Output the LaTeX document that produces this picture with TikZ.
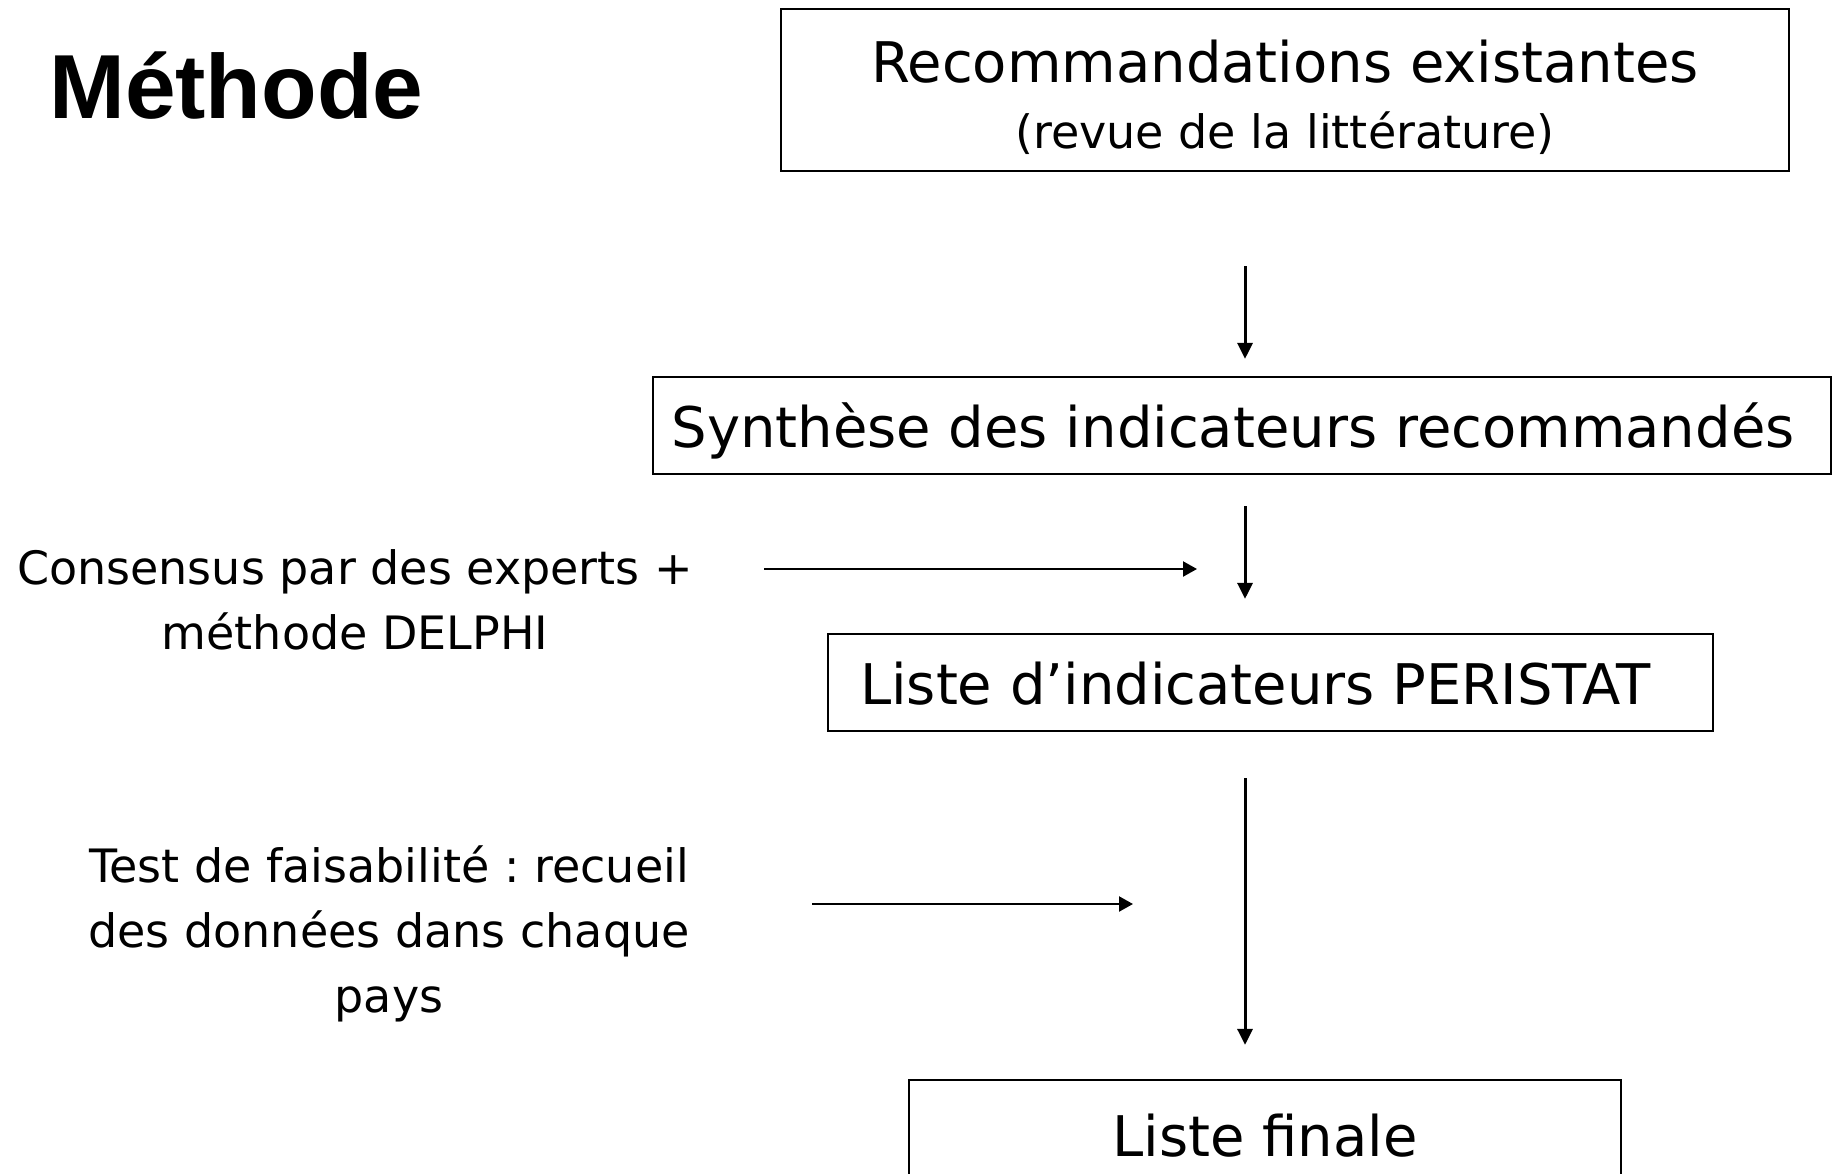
\documentclass[tikz,border=0pt]{standalone}
\usepackage{fontspec}
\setmainfont{DejaVu Sans}
\newfontfamily\titlefont{Liberation Sans}
\usetikzlibrary{arrows.meta,positioning}
\frenchspacing

\newcommand\bigtxt{\fontsize{56}{66}\selectfont}
\newcommand\midtxt{\fontsize{46}{65}\selectfont}

\begin{document}
\begin{tikzpicture}[x=1pt,y=-1pt,
    stepbox/.style={draw,line width=2.2pt,inner sep=0pt,font=\bigtxt,
                    text height=43pt,text depth=0pt},
    flow/.style={line width=3pt,-{Triangle[length=16pt,width=15pt]}},
    feed/.style={line width=2.2pt,-{Triangle[length=14pt,width=15pt]}},
    note/.style={align=center,font=\midtxt,inner sep=0pt}]
  \useasboundingbox (0,0) rectangle (1837,1174);

  % title
  \node[anchor=base west,inner sep=0pt,
        font={\titlefont\bfseries\fontsize{91}{95}\selectfont}]
    (title) at (49,119) {Méthode};

  % steps
  \node[stepbox,align=center,minimum width=1008pt,minimum height=162pt,
        text height=117pt]
    (reco) at (1285,90)
    {Recommandations existantes\\ \fontsize{46}{63}\selectfont (revue de la littérature)};
  \node[stepbox,minimum width=1178pt,minimum height=97pt]
    (synth) at (1242,425.5) {Synthèse des indicateurs recommandés\hspace*{18pt}};
  \node[stepbox,minimum width=885pt,minimum height=97pt]
    (liste) at (1270.5,682.5) {Liste d’indicateurs PERISTAT\hspace*{30pt}};
  \node[stepbox,minimum width=712pt,minimum height=110pt]
    (finale) at (1265,1135) {Liste finale};

  \coordinate (spine) at (1245,0);
  \foreach \a/\b/\s/\e in {reco/synth/94pt/17pt,synth/liste/31pt/34pt,
                           liste/finale/46pt/34pt}{
    \draw[flow,shorten <=\s,shorten >=\e] (\a.south -| spine) -- (\b.north -| spine);
  }

  % side inputs
  \node[note] (consensus) at (355,600) {Consensus par des experts +\\méthode DELPHI};
  \node[note] (test) at (389,934) {Test de faisabilité : recueil\\des données dans chaque\\pays};

  \coordinate (in1s) at (764,569);
  \coordinate (in1e) at (1197,569);
  \coordinate (in2s) at (812,904);
  \coordinate (in2e) at (1133,904);
  \draw[feed] (in1s) -- (in1e);
  \draw[feed] (in2s) -- (in2e);
\end{tikzpicture}
\end{document}
